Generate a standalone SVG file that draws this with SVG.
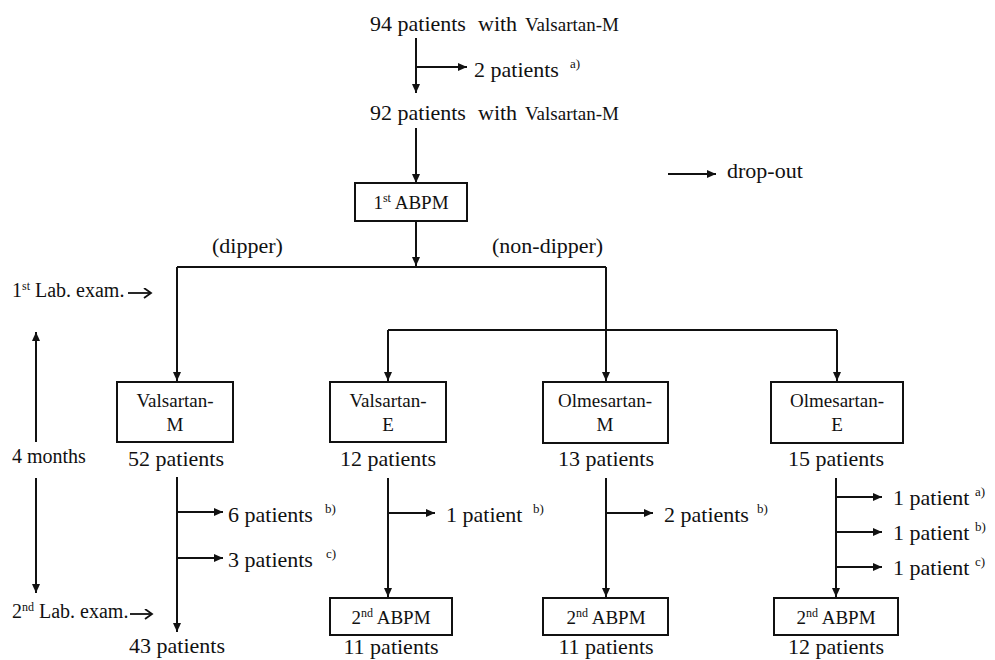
<svg xmlns="http://www.w3.org/2000/svg" width="995" height="660" viewBox="0 0 995 660" font-family="'Liberation Serif', 'DejaVu Serif', serif">
<style>
text{font-family:'Liberation Serif','DejaVu Serif',serif;fill:#111}
.t22{font-size:22px}
.t20{font-size:20px}
.t19{font-size:19px}
.sup{font-size:13px}
.box{fill:#fff;stroke:#111;stroke-width:2}
.ln{fill:none;stroke:#111;stroke-width:2}
.ar{fill:none;stroke:#111;stroke-width:2;marker-end:url(#ah)}
.oa{fill:none;stroke:#111;stroke-width:1.8;marker-end:url(#oh)}
.m{text-anchor:middle}
</style>
<defs>
<marker id="ah" markerUnits="userSpaceOnUse" markerWidth="10" markerHeight="9" refX="9" refY="4" orient="auto">
<path d="M0,0 L9,4 L0,8 z" fill="#111"/>
</marker>
<marker id="oh" markerUnits="userSpaceOnUse" markerWidth="10" markerHeight="12" refX="8" refY="5.5" orient="auto">
<path d="M1,0.5 L8,5.5 L1,10.5" fill="none" stroke="#111" stroke-width="1.8"/>
</marker>
</defs>

<g id="connectors">
<path class="ar" d="M416,38 V93"/>
<path class="ar" d="M416,67 H467"/>
<path class="ar" d="M416,128 V183"/>
<path class="ar" d="M416,221 V266"/>
<path class="ln" d="M177,267 H606"/>
<path class="ar" d="M177,267 V381"/>
<path class="ar" d="M606,267 V381"/>
<path class="ln" d="M388,330 H837"/>
<path class="ar" d="M388,330 V381"/>
<path class="ar" d="M837,330 V381"/>
<path class="ar" d="M177,477 V632"/>
<path class="ar" d="M177,512 H223"/>
<path class="ar" d="M177,558 H223"/>
<path class="ar" d="M388,478 V597"/>
<path class="ar" d="M388,513 H435"/>
<path class="ar" d="M606,478 V597"/>
<path class="ar" d="M606,513 H653"/>
<path class="ar" d="M836,478 V597"/>
<path class="ar" d="M836,497 H882"/>
<path class="ar" d="M836,532 H882"/>
<path class="ar" d="M836,567 H882"/>
<path class="ar" d="M36,442 V332"/>
<path class="ar" d="M36,478 V593"/>
<path class="oa" d="M128,293 H151"/>
<path class="oa" d="M130,614 H152"/>
<path class="ar" d="M668,174 H716"/>
</g>

<g id="n-start">
<text y="31"><tspan x="370" class="t22">94 patients</tspan><tspan x="478" class="t22">with</tspan><tspan x="525" class="t19">Valsartan-M</tspan></text>
</g>
<g id="n-drop0">
<text x="474" y="77" class="t22">2 patients</text>
<text x="570" y="68" class="sup">a)</text>
</g>
<g id="n-92">
<text y="120"><tspan x="370" class="t22">92 patients</tspan><tspan x="478" class="t22">with</tspan><tspan x="525" class="t19">Valsartan-M</tspan></text>
</g>
<g id="n-legend">
<text x="727" y="178" class="t22">drop-out</text>
</g>
<g id="n-abpm1">
<rect class="box" x="355" y="183" width="112" height="38"/>
<text x="411" y="209" class="t19 m">1<tspan font-size="12" dy="-7">st</tspan><tspan dy="7"> ABPM</tspan></text>
</g>
<g id="n-labels">
<text x="212" y="253" class="t22">(dipper)</text>
<text x="492" y="253" class="t22">(non-dipper)</text>
</g>
<g id="n-lab1">
<text x="12" y="297" class="t20">1<tspan font-size="12" dy="-7">st</tspan><tspan dy="7"> Lab. exam.</tspan></text>
</g>
<g id="n-months">
<text x="12" y="463" class="t20">4 months</text>
</g>
<g id="n-lab2">
<text x="12" y="618" class="t20">2<tspan font-size="12" dy="-7">nd</tspan><tspan dy="7"> Lab. exam.</tspan></text>
</g>

<g id="n-valm">
<rect class="box" x="117" y="382" width="116" height="60"/>
<text x="175" y="407" class="t19 m">Valsartan-</text>
<text x="175" y="431" class="t19 m">M</text>
<text x="176" y="466" class="t22 m">52 patients</text>
</g>
<g id="n-valm-drop">
<text x="228" y="522" class="t22">6 patients</text>
<text x="325" y="513" class="sup">b)</text>
<text x="228" y="567" class="t22">3 patients</text>
<text x="326" y="558" class="sup">c)</text>
</g>
<g id="n-valm-end">
<text x="177" y="653" class="t22 m">43 patients</text>
</g>

<g id="n-vale">
<rect class="box" x="330" y="382" width="116" height="60"/>
<text x="388" y="407" class="t19 m">Valsartan-</text>
<text x="388" y="431" class="t19 m">E</text>
<text x="388" y="466" class="t22 m">12 patients</text>
</g>
<g id="n-vale-drop">
<text x="446" y="522" class="t22">1 patient</text>
<text x="533" y="513" class="sup">b)</text>
</g>
<g id="n-vale-abpm">
<rect class="box" x="330" y="598" width="122" height="37"/>
<text x="391" y="624" class="t19 m">2<tspan font-size="12" dy="-7">nd</tspan><tspan dy="7"> ABPM</tspan></text>
<text x="391" y="654" class="t22 m">11 patients</text>
</g>

<g id="n-olmm">
<rect class="box" x="543" y="382" width="125" height="61"/>
<text x="605" y="407" class="t19 m">Olmesartan-</text>
<text x="605" y="431" class="t19 m">M</text>
<text x="606" y="466" class="t22 m">13 patients</text>
</g>
<g id="n-olmm-drop">
<text x="664" y="522" class="t22">2 patients</text>
<text x="757" y="513" class="sup">b)</text>
</g>
<g id="n-olmm-abpm">
<rect class="box" x="543" y="598" width="125" height="37"/>
<text x="606" y="624" class="t19 m">2<tspan font-size="12" dy="-7">nd</tspan><tspan dy="7"> ABPM</tspan></text>
<text x="606" y="654" class="t22 m">11 patients</text>
</g>

<g id="n-olme">
<rect class="box" x="771" y="382" width="132" height="61"/>
<text x="837" y="407" class="t19 m">Olmesartan-</text>
<text x="837" y="431" class="t19 m">E</text>
<text x="836" y="466" class="t22 m">15 patients</text>
</g>
<g id="n-olme-drop">
<text x="893" y="505" class="t22">1 patient</text>
<text x="975" y="496" class="sup">a)</text>
<text x="893" y="540" class="t22">1 patient</text>
<text x="975" y="531" class="sup">b)</text>
<text x="893" y="575" class="t22">1 patient</text>
<text x="975" y="566" class="sup">c)</text>
</g>
<g id="n-olme-abpm">
<rect class="box" x="774" y="598" width="124" height="37"/>
<text x="836" y="624" class="t19 m">2<tspan font-size="12" dy="-7">nd</tspan><tspan dy="7"> ABPM</tspan></text>
<text x="836" y="654" class="t22 m">12 patients</text>
</g>
</svg>
